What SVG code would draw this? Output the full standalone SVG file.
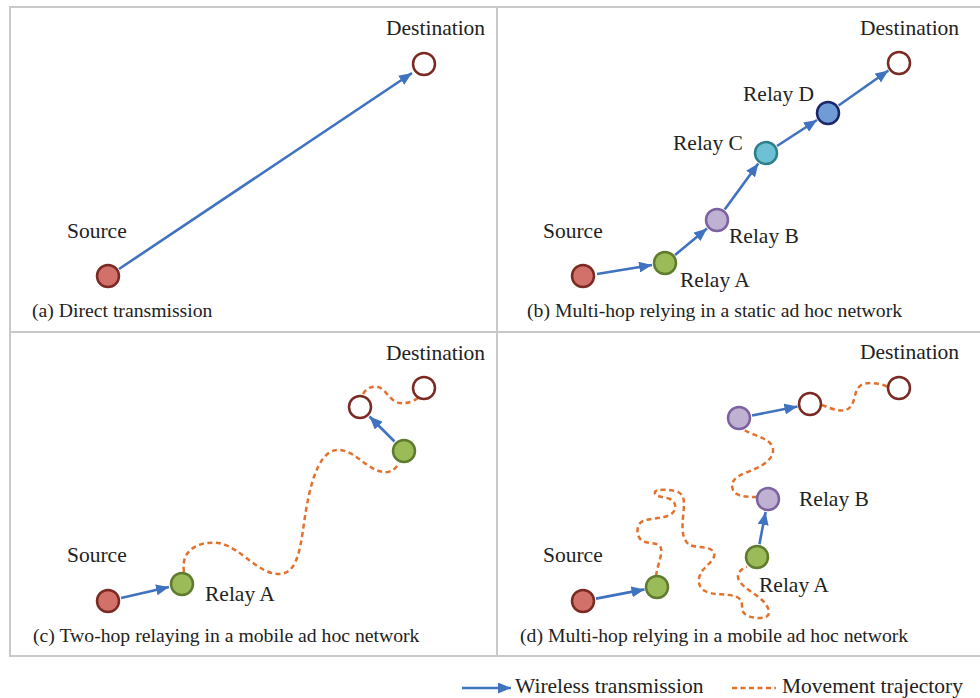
<svg xmlns="http://www.w3.org/2000/svg" width="980" height="698" viewBox="0 0 980 698">
<style>
text{font-family:"Liberation Serif","Times New Roman",serif;fill:#222}
.lbl{font-size:21.5px}
.cap{font-size:19.7px}
.frame{fill:none;stroke:#c9c9c9;stroke-width:2}
.arr{stroke:#3f72bf;stroke-width:2.6;fill:none;marker-end:url(#ah)}
.traj{stroke:#e3712e;stroke-width:2.5;fill:none;stroke-dasharray:5 3.5}
.src{fill:#d1716a;stroke:#7a2a22;stroke-width:2.5}
.dst{fill:#fff;stroke:#7a2a22;stroke-width:2.5}
.ga{fill:#9bbb59;stroke:#5f7b2e;stroke-width:2.5}
.pb{fill:#bfb1d2;stroke:#7d62a2;stroke-width:2.5}
.cc{fill:#6ec1d3;stroke:#2d7f8c;stroke-width:2.5}
.bd{fill:#6f9bd6;stroke:#1d2767;stroke-width:2.5}
</style>
<defs>
<marker id="ah" markerUnits="userSpaceOnUse" markerWidth="13" markerHeight="11" refX="13" refY="5.5" orient="auto">
<path d="M0,0 L13,5.5 L0,11 z" fill="#3f72bf"/>
</marker>
</defs>
<g id="frame">
<rect class="frame" x="10" y="7" width="975" height="649"/>
<line class="frame" x1="497" y1="7" x2="497" y2="656"/>
<line class="frame" x1="10" y1="332" x2="985" y2="332"/>
</g>
<g id="connectors">
<line class="arr" x1="119" y1="269" x2="412" y2="73"/>
<line class="arr" x1="597" y1="274" x2="652" y2="265"/>
<line class="arr" x1="675" y1="255" x2="707" y2="228.5"/>
<line class="arr" x1="724.7" y1="209.5" x2="758.3" y2="163.5"/>
<line class="arr" x1="777" y1="146" x2="817" y2="120"/>
<line class="arr" x1="838.6" y1="105.5" x2="888.4" y2="70.5"/>
<line class="arr" x1="121" y1="598" x2="169" y2="587"/>
<line class="arr" x1="394.5" y1="441.5" x2="369.5" y2="416.5"/>
<line class="arr" x1="596" y1="598.6" x2="644.5" y2="589.4"/>
<line class="arr" x1="759.4" y1="544.2" x2="765.6" y2="512"/>
<line class="arr" x1="752" y1="415.5" x2="797.5" y2="406.5"/>
<path class="traj" d="M184,572 C180,547 203,541 218,543 C240,546 258,575 280,574 C300,573 301,540 306,510 C312,475 322,448 340,450 C358,452 370,474 388,472 C393,471 397,467 398,464"/>
<path class="traj" d="M363,394 C367,387 373,386 378,387 C386,389 390,402 400,403 C408,404 414,401 418,398"/>
<path class="traj" d="M656,576 C658,562 664,552 660,546 C656,542 646,544 641,540 C636,535 636,524 643,521 C650,518 662,519 670,515 C677,511 677,502 670,499 C662,496 654,497 655,492 C656,489 670,489 678,492 C686,496 684,505 683,517 C682,530 682,540 690,545 C696,548 708,546 713,551 C718,557 708,564 703,570 C698,576 696,586 705,591 C714,596 728,593 737,597 C745,601 740,609 744,613 C748,618 760,619 766,617 C772,614 768,606 763,601 C756,594 745,589 740,582 C735,575 740,569 747,567"/>
<path class="traj" d="M757,497 C748,497 736,497 733,490 C730,482 735,477 745,473 C758,468 772,462 773,451 C774,441 760,437 750,433 C746,431 744,430 743,429"/>
<path class="traj" d="M822,405 C830,408 840,413 848,409 C856,404 853,392 860,386 C866,381 880,383 888,387"/>
</g>
<g id="panel-a">
<g id="a-source"><circle class="src" cx="108" cy="276" r="11"/><text class="lbl" x="67" y="238">Source</text></g>
<g id="a-dest"><circle class="dst" cx="424" cy="64" r="11"/><text class="lbl" x="386" y="35">Destination</text></g>
<text class="cap" x="32" y="317">(a) Direct transmission</text>
</g>
<g id="panel-b">
<g id="b-source"><circle class="src" cx="583" cy="276" r="11"/><text class="lbl" x="543" y="238">Source</text></g>
<g id="b-relayA"><circle class="ga" cx="665" cy="263" r="11"/><text class="lbl" x="680" y="287">Relay A</text></g>
<g id="b-relayB"><circle class="pb" cx="717" cy="220" r="11"/><text class="lbl" x="729" y="243">Relay B</text></g>
<g id="b-relayC"><circle class="cc" cx="766" cy="153" r="11"/><text class="lbl" x="673" y="150">Relay C</text></g>
<g id="b-relayD"><circle class="bd" cx="828" cy="113" r="11"/><text class="lbl" x="743" y="101">Relay D</text></g>
<g id="b-dest"><circle class="dst" cx="899" cy="63" r="11"/><text class="lbl" x="860" y="35">Destination</text></g>
<text class="cap" x="527" y="317">(b) Multi-hop relying in a static ad hoc network</text>
</g>
<g id="panel-c">
<g id="c-source"><circle class="src" cx="108" cy="601" r="11"/><text class="lbl" x="67" y="562">Source</text></g>
<g id="c-relayA"><circle class="ga" cx="182" cy="584" r="11"/><text class="lbl" x="205" y="601">Relay A</text></g>
<g id="c-relayA2"><circle class="ga" cx="404" cy="451" r="11"/></g>
<g id="c-dest2"><circle class="dst" cx="360" cy="407" r="11"/></g>
<g id="c-dest"><circle class="dst" cx="424" cy="388" r="11"/><text class="lbl" x="386" y="360">Destination</text></g>
<text class="cap" x="33" y="642">(c) Two-hop relaying in a mobile ad hoc network</text>
</g>
<g id="panel-d">
<g id="d-source"><circle class="src" cx="583" cy="601" r="11"/><text class="lbl" x="543" y="562">Source</text></g>
<g id="d-relayA1"><circle class="ga" cx="657" cy="587" r="11"/></g>
<g id="d-relayA2"><circle class="ga" cx="757" cy="557" r="11"/><text class="lbl" x="759" y="592">Relay A</text></g>
<g id="d-relayB1"><circle class="pb" cx="768" cy="499" r="11"/><text class="lbl" x="799" y="506">Relay B</text></g>
<g id="d-relayB2"><circle class="pb" cx="739" cy="418" r="11"/></g>
<g id="d-dest2"><circle class="dst" cx="810" cy="404" r="11"/></g>
<g id="d-dest"><circle class="dst" cx="899" cy="388" r="11"/><text class="lbl" x="860" y="359">Destination</text></g>
<text class="cap" x="520" y="642">(d) Multi-hop relying in a mobile ad hoc network</text>
</g>
<g id="legend">
<line class="arr" x1="462" y1="688" x2="511" y2="688"/>
<text class="lbl" x="515" y="693">Wireless transmission</text>
<line class="traj" x1="732" y1="688" x2="776" y2="688"/>
<text class="lbl" x="782" y="693">Movement trajectory</text>
</g>
</svg>
